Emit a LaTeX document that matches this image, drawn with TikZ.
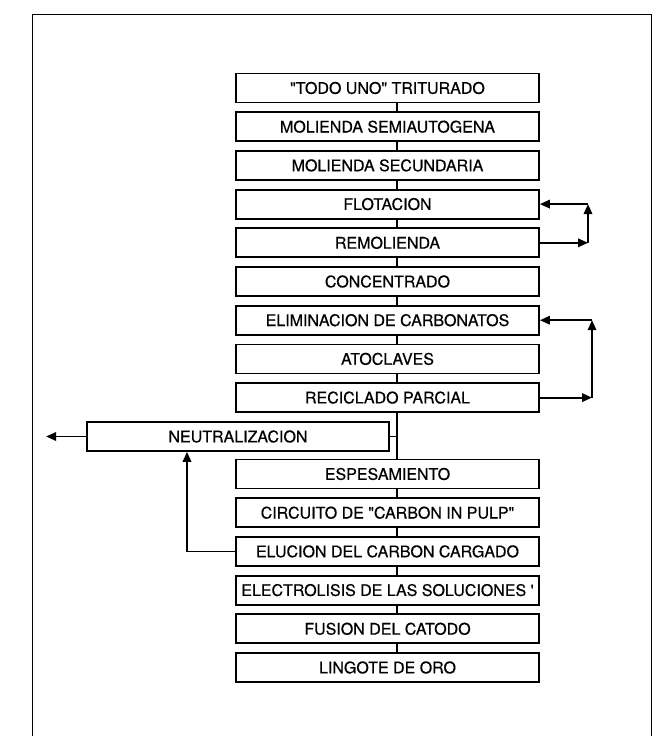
\documentclass[tikz,border=0pt]{standalone}
\usepackage{fontspec}
\setmainfont{TeX Gyre Heros}
\newfontfamily\etapafont{TeX Gyre Heros}[FakeBold=0.5]
\usetikzlibrary{arrows.meta}

\begin{document}
\begin{tikzpicture}[x=1pt, y=-1pt, >={Triangle[length=10pt,width=8.5pt]},
    etapa/.style={draw, line width=1.8pt, minimum width=303pt, minimum height=29pt,
        inner sep=0pt, font=\etapafont\fontsize{16}{18}\selectfont},
    linea/.style={line width=1.8pt}]
    \useasboundingbox (0,0) rectangle (662,736);
    % marco
    \draw[line width=1pt] (32,736) -- (32,14) -- (651,14) -- (651,736);

    \coordinate (spine) at (397,0);
    \coordinate (lazoA) at (588,0);
    \coordinate (lazoB) at (592,0);
    \coordinate (retorno) at (187,0);

    \node[etapa] (todo) at (387.5,88) {"TODO UNO" TRITURADO};
    \node[etapa] (semi) at (387.5,126.7) {MOLIENDA SEMIAUTOGENA};
    \node[etapa] (secu) at (387.5,165.4) {MOLIENDA SECUNDARIA};
    \node[etapa] (flot) at (387.5,204.1) {FLOTACION};
    \node[etapa] (remo) at (387.5,242.8) {REMOLIENDA};
    \node[etapa] (conc) at (387.5,281.5) {CONCENTRADO};
    \node[etapa] (elim) at (387.5,320.2) {ELIMINACION DE CARBONATOS};
    \node[etapa] (atoc) at (387.5,358.9) {ATOCLAVES};
    \node[etapa] (reci) at (387.5,397.6) {RECICLADO PARCIAL};
    \node[etapa, minimum width=302pt] (neut) at (238,436.5) {NEUTRALIZACION};
    \node[etapa] (espe) at (387.5,474) {ESPESAMIENTO};
    \node[etapa] (circ) at (387.5,512.7) {CIRCUITO DE "CARBON IN PULP"};
    \node[etapa] (eluc) at (387.5,551.4) {ELUCION DEL CARBON CARGADO};
    \node[etapa] (elec) at (387.5,590.1) {ELECTROLISIS DE LAS SOLUCIONES '};
    \node[etapa] (fusi) at (387.5,628.8) {FUSION DEL CATODO};
    \node[etapa] (ling) at (387.5,667.5) {LINGOTE DE ORO};

    % linea principal
    \draw[linea] (todo.south -| spine) -- (semi.north -| spine);
    \draw[linea] (semi.south -| spine) -- (secu.north -| spine);
    \draw[linea] (secu.south -| spine) -- (flot.north -| spine);
    \draw[linea] (flot.south -| spine) -- (remo.north -| spine);
    \draw[linea] (remo.south -| spine) -- (conc.north -| spine);
    \draw[linea] (conc.south -| spine) -- (elim.north -| spine);
    \draw[linea] (elim.south -| spine) -- (atoc.north -| spine);
    \draw[linea] (atoc.south -| spine) -- (reci.north -| spine);
    \draw[linea] (reci.south -| spine) -- (espe.north -| spine);
    \draw[linea] (neut.east) -- (neut.east -| spine);
    \draw[linea] (espe.south -| spine) -- (circ.north -| spine);
    \draw[linea] (circ.south -| spine) -- (eluc.north -| spine);
    \draw[linea] (eluc.south -| spine) -- (elec.north -| spine);
    \draw[linea] (elec.south -| spine) -- (fusi.north -| spine);
    \draw[linea] (fusi.south -| spine) -- (ling.north -| spine);

    % retornos
    \draw[linea, ->] (remo.east) -- (remo.east -| lazoA);
    \draw[linea, ->] (remo.east -| lazoA) -- (flot.east -| lazoA);
    \draw[linea, ->] (flot.east -| lazoA) -- (flot.east);
    \draw[linea, ->] (reci.east) -- (reci.east -| lazoB);
    \draw[linea, ->] (reci.east -| lazoB) -- (elim.east -| lazoB);
    \draw[linea, ->] (elim.east -| lazoB) -- (elim.east);
    \draw[linea, ->] (eluc.west) -| (neut.south -| retorno);
    \draw[linea, ->] (neut.west) -- ++(-40,0);
\end{tikzpicture}
\end{document}
